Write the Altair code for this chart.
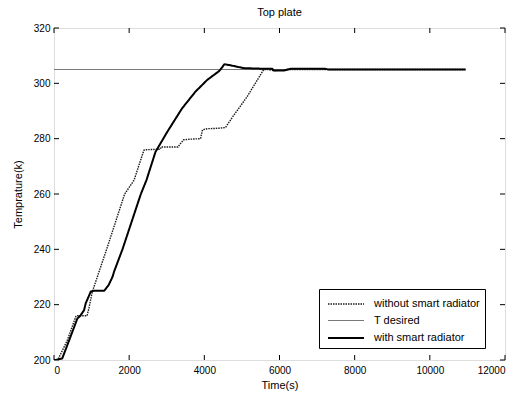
import altair as alt
import pandas as pd

# ---- data ----
t_without = [0, 100, 350, 580, 620, 880, 930, 1020, 1400, 1880, 2130, 2390, 2450,
             2830, 2850, 3300, 3350, 3450, 3600, 3900, 3950, 4080, 4300, 4560,
             4780, 5140, 5580, 5700, 5850, 6000, 6200, 10950]
y_without = [200, 200, 207, 215.7, 216, 216, 218.8, 224.7, 240, 260, 265, 275.8, 276,
             276.2, 277, 277, 278, 279.6, 279.8, 280, 283.2, 283.6, 283.7, 284,
             288.4, 295.2, 305, 305, 304.6, 304.7, 305, 305]

t_with = [0, 40, 220, 400, 622, 700, 800, 844, 978, 1050, 1333, 1450, 1556, 1600,
          1822, 2311, 2460, 2700, 3011, 3410, 3764, 4074, 4400, 4535, 4700, 5049,
          5500, 5800, 5850, 6100, 6300, 7200, 7300, 10950]
y_with = [200, 200, 200.6, 207, 215, 216, 218, 220.5, 224.7, 225, 225, 227, 230, 232,
          240, 260, 265, 275.2, 282.4, 291, 297, 301.2, 304.5, 306.9, 306.5, 305.5,
          305.3, 305.3, 304.6, 304.6, 305.3, 305.3, 305, 305]

t_desired = [0, 10950]
y_desired = [305, 305]

series_names = ["without smart radiator", "T desired", "with smart radiator"]
x_ticks = [0, 2000, 4000, 6000, 8000, 10000, 12000]
y_ticks = [200, 220, 240, 260, 280, 300, 320]

rows = []
for name, ts, ys in [(series_names[0], t_without, y_without),
                     (series_names[1], t_desired, y_desired),
                     (series_names[2], t_with, y_with)]:
    for i, (t, y) in enumerate(zip(ts, ys)):
        rows.append({"series": name, "t": t, "T": y, "order": i})
df = pd.DataFrame(rows)

W, H = 451, 332
FONT = "Liberation Sans"

xscale = alt.Scale(domain=[0, 12000], nice=False)
yscale = alt.Scale(domain=[200, 320], nice=False)

lines = alt.Chart(df).mark_line(clip=True).encode(
    x=alt.X("t:Q", scale=xscale,
            axis=alt.Axis(values=x_ticks, title="Time(s)", tickSize=0, domain=False,
                          grid=False, labelPadding=5, titlePadding=4, format="d",
                          titleFontWeight="normal")),
    y=alt.Y("T:Q", scale=yscale,
            axis=alt.Axis(values=y_ticks, title="Temprature(k)", tickSize=0, domain=False,
                          grid=False, labelPadding=4, titlePadding=10,
                          titleFontWeight="normal")),
    color=alt.Color("series:N", sort=series_names,
                    scale=alt.Scale(domain=series_names, range=["#1a1a1a", "#555555", "#000000"]),
                    legend=alt.Legend(title=None, orient="none", legendX=265, legendY=261,
                                      strokeColor="black", fillColor="white", padding=5,
                                      symbolType="M-2,0H2", symbolSize=324,
                                      symbolOffset=12, labelOffset=18,
                                      labelFontSize=11, labelFont=FONT, labelColor="black",
                                      rowPadding=2, cornerRadius=0)),
    strokeDash=alt.StrokeDash("series:N", sort=series_names,
                              scale=alt.Scale(domain=series_names, range=[[1.5, 1], [1, 0], [1, 0]]),
                              legend=None),
    strokeWidth=alt.StrokeWidth("series:N", sort=series_names,
                                scale=alt.Scale(type="ordinal", domain=series_names,
                                                range=[1.4, 0.8, 2.0]),
                                legend=None),
    order="order:Q",
)

xt = pd.DataFrame({"v": x_ticks})
yt = pd.DataFrame({"v": y_ticks})
tick_len = 5
xb = alt.Chart(xt).mark_rule(color="black", strokeWidth=1).encode(
    x=alt.X("v:Q", scale=xscale), y=alt.value(H), y2=alt.value(H - tick_len))
xtop = alt.Chart(xt).mark_rule(color="black", strokeWidth=1).encode(
    x=alt.X("v:Q", scale=xscale), y=alt.value(0), y2=alt.value(tick_len))
yl = alt.Chart(yt).mark_rule(color="black", strokeWidth=1).encode(
    y=alt.Y("v:Q", scale=yscale), x=alt.value(0), x2=alt.value(tick_len))
yr = alt.Chart(yt).mark_rule(color="black", strokeWidth=1).encode(
    y=alt.Y("v:Q", scale=yscale), x=alt.value(W), x2=alt.value(W - tick_len))

chart = alt.layer(lines, xb, xtop, yl, yr).properties(
    width=W, height=H,
    title=alt.TitleParams("Top plate", fontSize=11, font=FONT, fontWeight="normal",
                          anchor="middle", offset=5, color="black"),
    autosize=alt.AutoSizeParams(type="none"),
    padding={"left": 54, "top": 28, "right": 18, "bottom": 34},
).configure_view(stroke="black", strokeWidth=1.2).configure_axis(
    labelFont=FONT, titleFont=FONT, labelFontSize=11, titleFontSize=11,
    titleFontWeight="normal", labelColor="black", titleColor="black"
).configure(background="white")

chart.save("out.html", embed_options={"renderer": "svg", "actions": False})
